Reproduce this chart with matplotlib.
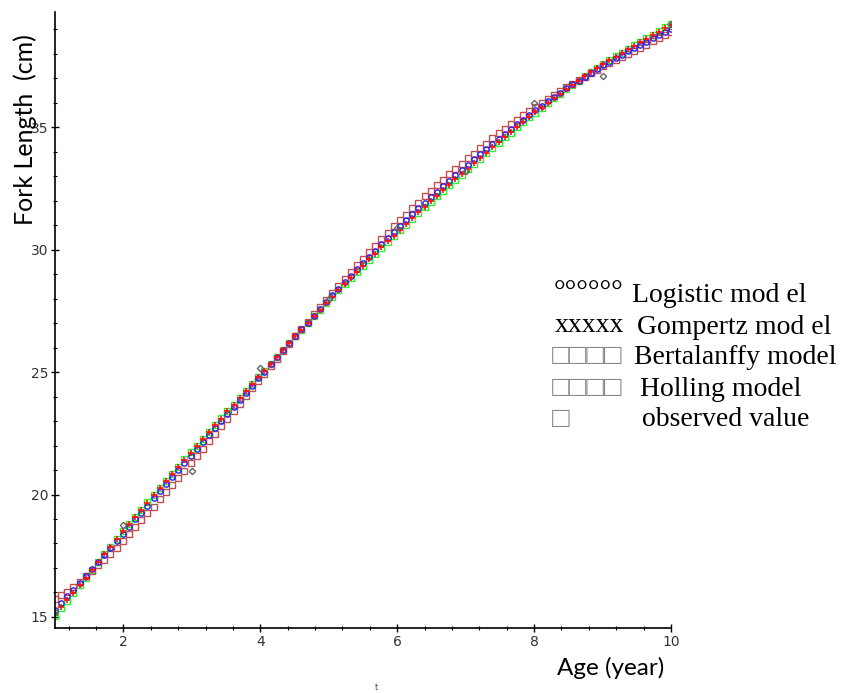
import numpy as np
import matplotlib
matplotlib.use('Agg')
import matplotlib.pyplot as plt
from matplotlib.ticker import MultipleLocator

# age grid (years), 101 samples from 1 to 10
age = np.round(np.linspace(1, 10, 101), 2)

logistic = [15.30, 15.58, 15.85, 16.12, 16.40, 16.68, 16.96, 17.25, 17.54, 17.82,
            18.11, 18.40, 18.69, 18.98, 19.26, 19.55, 19.84, 20.13, 20.42, 20.70,
            20.99, 21.28, 21.57, 21.86, 22.14, 22.43, 22.72, 23.01, 23.30, 23.58,
            23.87, 24.16, 24.45, 24.74, 25.02, 25.31, 25.60, 25.89, 26.18, 26.46,
            26.74, 27.02, 27.30, 27.58, 27.86, 28.13, 28.40, 28.67, 28.93, 29.19,
            29.45, 29.71, 29.96, 30.22, 30.47, 30.72, 30.96, 31.20, 31.44, 31.68,
            31.92, 32.15, 32.37, 32.60, 32.82, 33.04, 33.26, 33.47, 33.68, 33.89,
            34.10, 34.31, 34.52, 34.72, 34.91, 35.11, 35.31, 35.51, 35.69, 35.87,
            36.05, 36.23, 36.41, 36.58, 36.74, 36.90, 37.06, 37.22, 37.38, 37.53,
            37.67, 37.81, 37.95, 38.09, 38.23, 38.36, 38.49, 38.62, 38.75, 38.88,
            39.01]

gompertz = [15.09, 15.40, 15.70, 15.99, 16.31, 16.61, 16.92, 17.24, 17.56, 17.86,
            18.17, 18.49, 18.78, 19.08, 19.36, 19.66, 19.96, 20.26, 20.55, 20.83,
            21.12, 21.41, 21.70, 21.98, 22.25, 22.54, 22.82, 23.10, 23.39, 23.66,
            23.94, 24.22, 24.50, 24.78, 25.06, 25.34, 25.62, 25.91, 26.19, 26.46,
            26.73, 27.00, 27.28, 27.55, 27.82, 28.08, 28.34, 28.60, 28.85, 29.10,
            29.35, 29.60, 29.84, 30.09, 30.33, 30.57, 30.81, 31.04, 31.28, 31.52,
            31.75, 31.98, 32.20, 32.43, 32.65, 32.87, 33.09, 33.30, 33.52, 33.74,
            33.96, 34.17, 34.39, 34.60, 34.80, 35.01, 35.21, 35.42, 35.61, 35.80,
            35.99, 36.18, 36.37, 36.55, 36.72, 36.90, 37.07, 37.24, 37.41, 37.57,
            37.72, 37.88, 38.03, 38.18, 38.33, 38.47, 38.61, 38.76, 38.90, 39.04,
            39.18]

bertalanffy = [15.74, 15.89, 16.03, 16.23, 16.44, 16.66, 16.88, 17.11, 17.33, 17.56,
               17.83, 18.10, 18.39, 18.67, 18.95, 19.23, 19.51, 19.80, 20.09, 20.38,
               20.67, 20.97, 21.27, 21.57, 21.87, 22.18, 22.49, 22.80, 23.10, 23.40,
               23.71, 24.02, 24.33, 24.63, 24.93, 25.24, 25.55, 25.86, 26.16, 26.46,
               26.76, 27.06, 27.36, 27.65, 27.95, 28.24, 28.52, 28.81, 29.08, 29.36,
               29.63, 29.90, 30.16, 30.43, 30.69, 30.95, 31.19, 31.43, 31.68, 31.92,
               32.17, 32.40, 32.62, 32.85, 33.07, 33.29, 33.51, 33.72, 33.92, 34.13,
               34.33, 34.54, 34.74, 34.93, 35.11, 35.29, 35.48, 35.67, 35.84, 36.00,
               36.16, 36.32, 36.48, 36.64, 36.78, 36.92, 37.06, 37.20, 37.35, 37.48,
               37.61, 37.73, 37.86, 37.99, 38.12, 38.24, 38.37, 38.50, 38.63, 38.75,
               38.88]

holling = [15.05, 15.37, 15.67, 15.97, 16.29, 16.60, 16.91, 17.24, 17.56, 17.87,
           18.18, 18.50, 18.80, 19.10, 19.38, 19.68, 19.98, 20.28, 20.57, 20.85,
           21.14, 21.43, 21.72, 22.00, 22.27, 22.56, 22.84, 23.12, 23.40, 23.67,
           23.95, 24.23, 24.51, 24.79, 25.06, 25.34, 25.63, 25.91, 26.19, 26.46,
           26.73, 27.00, 27.27, 27.54, 27.81, 28.07, 28.33, 28.59, 28.84, 29.08,
           29.33, 29.58, 29.82, 30.07, 30.31, 30.55, 30.78, 31.01, 31.25, 31.49,
           31.72, 31.95, 32.17, 32.40, 32.62, 32.84, 33.06, 33.27, 33.49, 33.71,
           33.93, 34.15, 34.37, 34.58, 34.78, 34.99, 35.19, 35.40, 35.59, 35.79,
           35.98, 36.17, 36.36, 36.55, 36.72, 36.90, 37.07, 37.24, 37.42, 37.58,
           37.73, 37.89, 38.04, 38.19, 38.34, 38.49, 38.63, 38.78, 38.92, 39.07,
           39.21]

obs_age = [1, 2, 3, 4, 5, 6, 7, 8, 9, 10]
obs_len = [15.2, 18.77, 20.96, 25.17, 28.0, 30.9, 33.2, 35.97, 37.07, 39.2]

W, H = 851, 693
fig = plt.figure(figsize=(W / 100, H / 100), dpi=100)
ax = fig.add_axes([55 / W, 65 / H, 616 / W, 616 / H])

ax.plot(age, holling, ls='none', marker='s', ms=4.3, mfc='none', mec='#33ee33', mew=1.0)
ax.plot(age, bertalanffy, ls='none', marker='s', ms=4.3, mfc='none', mec='#c05050', mew=1.0)
ax.plot(age, logistic, ls='none', marker='o', ms=3.8, mfc='none', mec='#2020ff', mew=1.0)
ax.plot(age, gompertz, ls='none', marker='+', ms=4.5, mec='#ff1010', mew=1.2)
ax.plot(obs_age, obs_len, ls='none', marker='D', ms=3.2, mfc='none', mec='#666666', mew=1.0)

ax.set_xlim(1, 10)
ax.set_ylim(14.55, 39.7)
for s in ['top', 'right']:
    ax.spines[s].set_visible(False)
for s in ['left', 'bottom']:
    ax.spines[s].set_linewidth(1.2)

ax.set_xticks([2, 4, 6, 8, 10])
ax.set_yticks([15, 20, 25, 30, 35])
ax.xaxis.set_minor_locator(MultipleLocator(0.4))
ax.yaxis.set_minor_locator(MultipleLocator(1))
ax.tick_params(which='major', direction='inout', length=6, width=1, labelsize=10,
               labelcolor='#333333', pad=2)
ax.tick_params(which='minor', direction='inout', length=3, width=0.8)

# axis titles
fig.text(25 / W, 1 - 130 / H, 'Fork Length  (cm)', rotation=90, ha='center', va='center',
         fontsize=18, family='Lato')
fig.text(611 / W, 1 - 668 / H, 'Age (year)', ha='center', va='center',
         fontsize=17.5, family='Lato')
fig.text(376 / W, 1 - 688 / H, 't', ha='center', va='center', fontsize=6, color='#444444')

# hand-written key
serif = ['Liberation Serif', 'DejaVu Sans']
kw = dict(va='center', ha='left', fontsize=20, family=serif)
sq = dict(va='center', ha='left', fontsize=21, family=serif, color='#888888')
fig.text(554 / W, 1 - 294 / H, '°°°°°°', va='center', ha='left', fontsize=21, family=serif)
fig.text(632 / W, 1 - 296 / H, 'Logistic mod el', **kw)
fig.text(555 / W, 1 - 326 / H, 'xxxxx', **kw)
fig.text(637 / W, 1 - 327 / H, 'Gompertz mod el', **kw)
fig.text(552 / W, 1 - 357 / H, '□□□□', **sq)
fig.text(634 / W, 1 - 357 / H, 'Bertalanffy model', **kw)
fig.text(552 / W, 1 - 389 / H, '□□□□', **sq)
fig.text(640 / W, 1 - 389 / H, 'Holling model', **kw)
fig.text(552 / W, 1 - 420 / H, '□', **sq)
fig.text(642 / W, 1 - 420 / H, 'observed value', **kw)

fig.savefig('out.png', dpi=100)
